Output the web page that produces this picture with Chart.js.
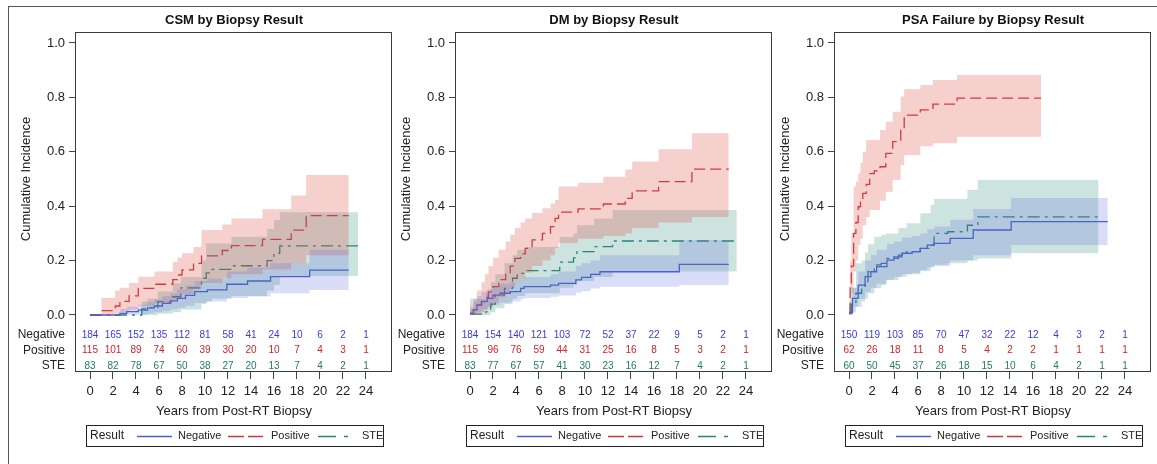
<!DOCTYPE html>
<html>
<head>
<meta charset="utf-8">
<title>Cumulative incidence by biopsy result</title>
<script src="https://cdn.jsdelivr.net/npm/chart.js@4.4.1/dist/chart.umd.min.js"></script>
<style>
    html, body { margin: 0; padding: 0; background: #fff; }
    #wrap { position: relative; width: 1157px; height: 464px; overflow: hidden; }
    #frame { position: absolute; left: 8px; top: 6px; right: -4px; bottom: -4px; border-top: 1px solid #555; border-left: 1px solid #555; }
    canvas { position: absolute; top: 0; }
</style>
</head>
<body>
<div id="wrap">
    <div id="frame"></div>
    <canvas id="csm-chart" width="400" height="464" style="left:0px"></canvas>
    <canvas id="dm-chart" width="390" height="464" style="left:385px"></canvas>
    <canvas id="psa-chart" width="392" height="464" style="left:765px"></canvas>
</div>
<script>
// ---- data ----
const riskYears = [0, 2, 4, 6, 8, 10, 12, 14, 16, 18, 20, 22, 24];
const yTickValues = [0, 0.2, 0.4, 0.6, 0.8, 1.0];
const groupNames = ['Negative', 'Positive', 'STE'];

// CSM
const csmNegT   = [0, 2.6, 3.2, 4.2, 5.0, 5.6, 6.3, 7.0, 7.6, 8.3, 9.1, 10.2, 11.9, 13.7, 15.7, 19.1, 22.5];
const csmNegEst = [0, 0.006, 0.012, 0.018, 0.026, 0.033, 0.043, 0.052, 0.061, 0.072, 0.086, 0.092, 0.113, 0.125, 0.141, 0.165, 0.165];
const csmNegLo  = [0, 0, 0, 0.002, 0.006, 0.01, 0.015, 0.02, 0.026, 0.034, 0.044, 0.05, 0.062, 0.068, 0.08, 0.092, 0.092];
const csmNegHi  = [0, 0.022, 0.03, 0.038, 0.048, 0.058, 0.07, 0.08, 0.095, 0.108, 0.125, 0.133, 0.16, 0.175, 0.19, 0.24, 0.24];

const csmPosT   = [0, 1.0, 2.2, 2.6, 3.4, 4.2, 5.6, 7.2, 7.6, 8.0, 9.0, 9.7, 11.5, 12.3, 15.0, 17.5, 18.8, 22.5];
const csmPosEst = [0, 0.016, 0.033, 0.05, 0.07, 0.098, 0.113, 0.13, 0.147, 0.166, 0.19, 0.217, 0.237, 0.255, 0.278, 0.312, 0.365, 0.365];
const csmPosLo  = [0, 0, 0.005, 0.01, 0.02, 0.033, 0.043, 0.053, 0.063, 0.076, 0.095, 0.118, 0.135, 0.15, 0.168, 0.19, 0.22, 0.22];
const csmPosHi  = [0, 0.063, 0.09, 0.1, 0.118, 0.141, 0.16, 0.196, 0.21, 0.227, 0.25, 0.3125, 0.333, 0.355, 0.389, 0.439, 0.515, 0.515];

const csmSteT   = [0, 4.5, 5.0, 5.9, 7.2, 7.9, 9.7, 10.1, 10.6, 12.3, 15.4, 16.0, 16.5, 23.3];
const csmSteEst = [0, 0.022, 0.027, 0.049, 0.067, 0.1, 0.135, 0.155, 0.168, 0.181, 0.2, 0.227, 0.254, 0.254];
const csmSteLo  = [0, 0, 0, 0.005, 0.01, 0.02, 0.04, 0.05, 0.06, 0.07, 0.09, 0.11, 0.143, 0.143];
const csmSteHi  = [0, 0.05, 0.06, 0.086, 0.116, 0.14, 0.2, 0.263, 0.263, 0.288, 0.316, 0.349, 0.378, 0.378];

const csmRiskNeg = [184, 165, 152, 135, 112, 81, 58, 41, 24, 10, 6, 2, 1];
const csmRiskPos = [115, 101, 89, 74, 60, 39, 30, 20, 10, 7, 4, 3, 1];
const csmRiskSte = [83, 82, 78, 67, 50, 38, 27, 20, 13, 7, 4, 2, 1];

// DM
const dmNegT   = [0, 0.3, 0.6, 1.0, 1.5, 2.0, 2.6, 3.5, 4.4, 4.7, 7.0, 7.7, 9.2, 9.7, 10.5, 11.3, 18.2, 22.5];
const dmNegEst = [0.005, 0.02, 0.037, 0.05, 0.061, 0.073, 0.08, 0.086, 0.098, 0.104, 0.11, 0.116, 0.129, 0.138, 0.149, 0.159, 0.186, 0.186];
const dmNegLo  = [0, 0.005, 0.012, 0.02, 0.028, 0.038, 0.045, 0.05, 0.058, 0.062, 0.067, 0.072, 0.082, 0.088, 0.097, 0.104, 0.11, 0.11];
const dmNegHi  = [0.02, 0.05, 0.07, 0.085, 0.095, 0.105, 0.115, 0.12, 0.135, 0.14, 0.15, 0.16, 0.18, 0.19, 0.2, 0.22, 0.276, 0.276];

const dmPosT   = [0, 0.3, 0.6, 1.0, 1.3, 1.6, 2.0, 2.5, 3.1, 3.5, 3.9, 4.4, 4.8, 5.4, 6.3, 7.0, 7.4, 7.7, 9.4, 11.6, 13.5, 14.1, 16.4, 19.3, 22.5];
const dmPosEst = [0.007, 0.02, 0.035, 0.049, 0.065, 0.085, 0.104, 0.13, 0.153, 0.18, 0.208, 0.225, 0.245, 0.276, 0.3, 0.325, 0.355, 0.378, 0.39, 0.408, 0.429, 0.456, 0.49, 0.536, 0.536];
const dmPosLo  = [0, 0, 0.005, 0.01, 0.02, 0.03, 0.045, 0.065, 0.08, 0.1, 0.12, 0.135, 0.155, 0.18, 0.2, 0.22, 0.245, 0.265, 0.28, 0.29, 0.3, 0.32, 0.34, 0.36, 0.36];
const dmPosHi  = [0.03, 0.06, 0.09, 0.12, 0.15, 0.18, 0.21, 0.24, 0.27, 0.295, 0.32, 0.34, 0.355, 0.375, 0.392, 0.41, 0.423, 0.472, 0.486, 0.508, 0.535, 0.564, 0.609, 0.668, 0.668];

const dmSteT   = [0, 1.4, 1.8, 2.2, 3.0, 3.7, 4.1, 4.8, 7.8, 9.0, 9.3, 10.8, 12.4, 23.2];
const dmSteEst = [0.003, 0.012, 0.04, 0.073, 0.098, 0.135, 0.153, 0.163, 0.194, 0.21, 0.233, 0.251, 0.272, 0.272];
const dmSteLo  = [0, 0, 0.01, 0.025, 0.04, 0.06, 0.07, 0.08, 0.1, 0.11, 0.125, 0.14, 0.16, 0.17];
const dmSteHi  = [0.06, 0.08, 0.12, 0.15, 0.19, 0.22, 0.24, 0.25, 0.288, 0.3, 0.33, 0.355, 0.386, 0.386];

const dmRiskNeg = [184, 154, 140, 121, 103, 72, 52, 37, 22, 9, 5, 2, 1];
const dmRiskPos = [115, 96, 76, 59, 44, 31, 25, 16, 8, 5, 3, 2, 1];
const dmRiskSte = [83, 77, 67, 57, 41, 30, 23, 16, 12, 7, 4, 2, 1];

// PSA failure
const psaNegT   = [0, 0.3, 0.8, 1.4, 1.9, 2.4, 3.3, 3.9, 4.6, 5.5, 6.2, 6.8, 7.4, 8.8, 10.8, 14.1, 22.5];
const psaNegEst = [0.007, 0.061, 0.11, 0.141, 0.159, 0.178, 0.202, 0.214, 0.227, 0.233, 0.245, 0.257, 0.263, 0.282, 0.3125, 0.343, 0.343];
const psaNegLo  = [0, 0.03, 0.06, 0.085, 0.1, 0.115, 0.13, 0.14, 0.15, 0.155, 0.165, 0.175, 0.18, 0.2, 0.22, 0.257, 0.257];
const psaNegHi  = [0.02, 0.1, 0.16, 0.2, 0.22, 0.24, 0.26, 0.27, 0.285, 0.29, 0.3, 0.315, 0.325, 0.35, 0.39, 0.43, 0.43];

const psaPosT   = [0, 0.1, 0.2, 0.4, 0.6, 0.8, 1.0, 1.2, 1.5, 1.8, 2.2, 2.7, 3.2, 3.8, 4.5, 4.8, 6.2, 7.3, 9.4, 16.7];
const psaPosEst = [0.007, 0.1, 0.18, 0.3, 0.34, 0.398, 0.42, 0.447, 0.48, 0.52, 0.53, 0.545, 0.594, 0.637, 0.68, 0.735, 0.754, 0.775, 0.797, 0.797];
const psaPosLo  = [0, 0.03, 0.08, 0.16, 0.2, 0.257, 0.28, 0.33, 0.36, 0.386, 0.386, 0.42, 0.453, 0.496, 0.551, 0.588, 0.62, 0.631, 0.655, 0.655];
const psaPosHi  = [0.03, 0.2, 0.3, 0.472, 0.49, 0.52, 0.56, 0.6, 0.643, 0.643, 0.643, 0.68, 0.71, 0.747, 0.803, 0.83, 0.846, 0.864, 0.882, 0.882];

const psaSteT   = [0, 0.2, 0.6, 1.1, 1.4, 1.65, 2.2, 2.8, 3.2, 4.3, 5.0, 6.2, 7.1, 7.4, 8.6, 10.3, 11.2, 14.1, 21.7];
const psaSteEst = [0.007, 0.04, 0.08, 0.105, 0.123, 0.159, 0.184, 0.19, 0.208, 0.22, 0.233, 0.245, 0.257, 0.3, 0.306, 0.33, 0.361, 0.361, 0.361];
const psaSteLo  = [0, 0.01, 0.03, 0.05, 0.06, 0.08, 0.098, 0.11, 0.129, 0.141, 0.15, 0.162, 0.178, 0.185, 0.19, 0.2, 0.208, 0.227, 0.227];
const psaSteHi  = [0.05, 0.1, 0.19, 0.2, 0.23, 0.26, 0.288, 0.295, 0.3, 0.32, 0.337, 0.374, 0.404, 0.426, 0.426, 0.46, 0.496, 0.496, 0.496];

const psaRiskNeg = [150, 119, 103, 85, 70, 47, 32, 22, 12, 4, 3, 2, 1];
const psaRiskPos = [62, 26, 18, 11, 8, 5, 4, 2, 2, 1, 1, 1, 1];
const psaRiskSte = [60, 50, 45, 37, 26, 18, 15, 10, 6, 4, 2, 1, 1];

// ---- styles ----
const FONT = '"Liberation Sans", Arial, sans-serif';
const groupStyles = [
    { line: '#4d5bd8', band: 'rgba(85, 100, 220, 0.22)', text: '#3a3ae0', dash: [], legendDash: [] },
    { line: '#d1343d', band: 'rgba(222, 82, 72, 0.27)', text: '#d0222e', dash: [11, 5], legendDash: [16, 4] },
    { line: '#2a8574', band: 'rgba(40, 135, 120, 0.23)', text: '#1f7a6a', dash: [12, 5, 3, 5], legendDash: [18, 8, 4, 40] }
];

// plot box: x -1.22..26.26 yrs, y -0.21..1.04 (room for the at-risk rows)
const X_MIN = -1.2174, X_MAX = 26.261;
const Y_MIN = -0.2096, Y_MAX = 1.0404;

document.addEventListener('DOMContentLoaded', () => {
    renderPanel('csm-chart', {
        title: 'CSM by Biopsy Result', boxLeft: 76, rightPad: 8,
        groups: [[csmNegT, csmNegEst, csmNegLo, csmNegHi], [csmPosT, csmPosEst, csmPosLo, csmPosHi], [csmSteT, csmSteEst, csmSteLo, csmSteHi]],
        risk: [csmRiskNeg, csmRiskPos, csmRiskSte]
    });
    renderPanel('dm-chart', {
        title: 'DM by Biopsy Result', boxLeft: 71, rightPad: 3,
        groups: [[dmNegT, dmNegEst, dmNegLo, dmNegHi], [dmPosT, dmPosEst, dmPosLo, dmPosHi], [dmSteT, dmSteEst, dmSteLo, dmSteHi]],
        risk: [dmRiskNeg, dmRiskPos, dmRiskSte]
    });
    renderPanel('psa-chart', {
        title: 'PSA Failure by Biopsy Result', boxLeft: 70, rightPad: 6,
        groups: [[psaNegT, psaNegEst, psaNegLo, psaNegHi], [psaPosT, psaPosEst, psaPosLo, psaPosHi], [psaSteT, psaSteEst, psaSteLo, psaSteHi]],
        risk: [psaRiskNeg, psaRiskPos, psaRiskSte]
    });
});

function toPoints(times, values) {
    return times.map((t, i) => ({ x: t, y: values[i] }));
}

// frame, titles, at-risk table and the boxed legend
const panelDecor = {
    id: 'panelDecor',
    afterDraw(chart, args, opts) {
        const { ctx, chartArea: area, scales } = chart;
        const xs = scales.x, ys = scales.y;
        const midX = (area.left + area.right) / 2;
        ctx.save();

        ctx.strokeStyle = '#3c3c3c';
        ctx.lineWidth = 1;
        ctx.strokeRect(Math.round(area.left) - 0.5, Math.round(area.top) + 0.5,
            Math.round(area.right - area.left), Math.round(area.bottom - area.top) - 1);

        ctx.fillStyle = '#111';
        ctx.textAlign = 'center';
        ctx.textBaseline = 'middle';
        ctx.font = 'bold 13px ' + FONT;
        ctx.fillText(opts.title, midX, 20);

        ctx.fillStyle = '#222';
        ctx.font = '13px ' + FONT;
        ctx.fillText('Years from Post-RT Biopsy', midX, 411);

        ctx.save();
        ctx.translate(area.left - 50, ys.getPixelForValue(0.5));
        ctx.rotate(-Math.PI / 2);
        ctx.fillText('Cumulative Incidence', 0, 0);
        ctx.restore();

        // number at risk
        const rowY = [area.bottom - 37, area.bottom - 21.5, area.bottom - 6];
        opts.risk.forEach((row, r) => {
            ctx.textAlign = 'right';
            ctx.font = '12px ' + FONT;
            ctx.fillStyle = '#222';
            ctx.fillText(groupNames[r], area.left - 11, rowY[r]);
            ctx.textAlign = 'center';
            ctx.font = '10px ' + FONT;
            ctx.fillStyle = groupStyles[r].text;
            row.forEach((n, i) => ctx.fillText(String(n), xs.getPixelForValue(riskYears[i]), rowY[r]));
        });

        // legend
        const lx = Math.round(area.left) + 10, ly = 425, cy = ly + 11;
        ctx.strokeStyle = '#222';
        ctx.strokeRect(lx + 0.5, ly + 0.5, 297, 21);
        ctx.textAlign = 'left';
        ctx.fillStyle = '#222';
        ctx.font = '12px ' + FONT;
        ctx.fillText('Result', lx + 4, cy);
        const segs = [[51, 86, 92], [142, 177, 185], [232, 262, 276]];
        segs.forEach((s, g) => {
            ctx.strokeStyle = groupStyles[g].line;
            ctx.lineWidth = 1.3;
            ctx.setLineDash(groupStyles[g].legendDash);
            ctx.beginPath();
            ctx.moveTo(lx + s[0], cy + 0.5);
            ctx.lineTo(lx + s[1], cy + 0.5);
            ctx.stroke();
            ctx.setLineDash([]);
            ctx.font = '11px ' + FONT;
            ctx.fillText(groupNames[g], lx + s[2], cy);
        });
        ctx.restore();
    }
};

function renderPanel(canvasId, panel) {
    const ctx = document.getElementById(canvasId).getContext('2d');

    const bands = [];
    const lines = [];
    panel.groups.forEach(([t, est, lo, hi], g) => {
        const st = groupStyles[g];
        bands.push({
            data: toPoints(t, hi), stepped: true, borderWidth: 0, pointRadius: 0,
            backgroundColor: st.band, fill: '+1'
        });
        bands.push({
            data: toPoints(t, lo), stepped: true, borderWidth: 0, pointRadius: 0, fill: false
        });
        lines.push({
            data: toPoints(t, est), stepped: true, borderWidth: 1.3, pointRadius: 0,
            borderColor: st.line, borderDash: st.dash, fill: false
        });
    });

    const tickFont = { family: FONT, size: 13 };

    new Chart(ctx, {
        type: 'line',
        data: { datasets: bands.concat(lines) },
        options: {
            responsive: false,
            animation: false,
            events: [],
            layout: { padding: { left: 0, right: panel.rightPad, top: 32, bottom: 0 } },
            plugins: {
                legend: { display: false },
                tooltip: { enabled: false },
                panelDecor: { title: panel.title, risk: panel.risk }
            },
            scales: {
                x: {
                    type: 'linear', min: X_MIN, max: X_MAX,
                    afterBuildTicks: s => { s.ticks = riskYears.map(v => ({ value: v })); },
                    afterFit: s => { s.height = 92; },
                    grid: { drawOnChartArea: false, drawTicks: true, tickLength: 7, color: '#444' },
                    border: { display: false },
                    ticks: { font: tickFont, color: '#222', padding: 5, maxRotation: 0, autoSkip: false }
                },
                y: {
                    type: 'linear', min: Y_MIN, max: Y_MAX,
                    afterBuildTicks: s => { s.ticks = yTickValues.map(v => ({ value: v })); },
                    afterFit: s => { s.width = panel.boxLeft; },
                    grid: { drawOnChartArea: false, drawTicks: true, tickLength: 7, color: '#444' },
                    border: { display: false },
                    ticks: { font: tickFont, color: '#222', padding: 4, callback: v => v.toFixed(1) }
                }
            }
        },
        plugins: [panelDecor]
    });
}
</script>
</body>
</html>
